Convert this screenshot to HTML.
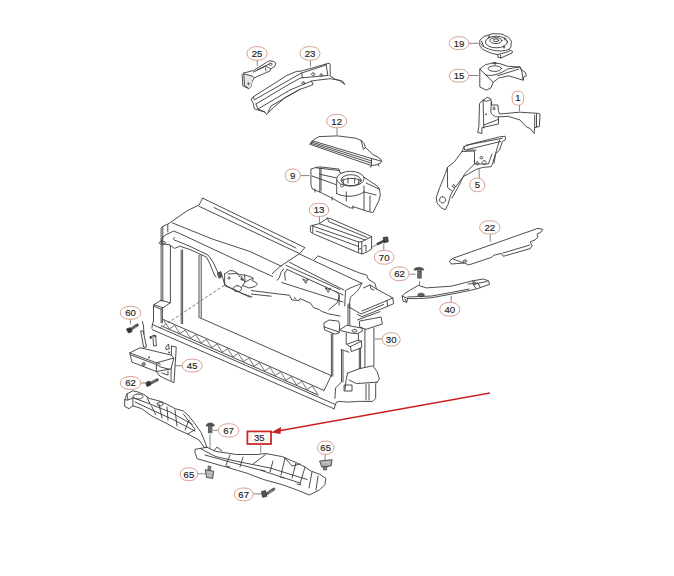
<!DOCTYPE html>
<html><head><meta charset="utf-8"><style>
html,body{margin:0;padding:0;background:#fff;}
svg{display:block;}
.l{fill:none;stroke:#3a3a3a;stroke-width:0.9;stroke-linejoin:round;stroke-linecap:round;}
.f{fill:#fff;stroke:#3a3a3a;stroke-width:0.9;stroke-linejoin:round;}
.d{fill:none;stroke:#555;stroke-width:0.8;stroke-dasharray:3 2;}
.k{fill:none;stroke:#777;stroke-width:0.9;}
.e{fill:#fff;stroke:#d8a090;stroke-width:1;}
text{font-family:"Liberation Sans",sans-serif;font-size:9.6px;fill:#222;stroke:#222;stroke-width:0.15;text-anchor:middle;}
</style></head><body>
<svg width="674" height="576" viewBox="0 0 674 576">
<rect width="674" height="576" fill="#fff"/>

<!-- ===== Part 25 ===== -->
<g id="p25">
<path class="f" d="M242.1,74.6 L243.7,73 L253.5,70.5 L266.6,62.3 L269.8,60.7 L273.9,61.5 L275.9,63.2 L274.7,66.4 L270.6,68.9 L269.8,71.3 L267.4,72.1 L254.3,77.8 L251.9,81.9 L251.1,86.8 L248.6,88.5 L242.9,86 Z"/>
<path d="M243.7,73.5 L252,76 L251.9,81.9 L251.1,86.8 L248.6,88.5 L244.5,85.2 Z" fill="#e6e6e6" stroke="none"/><path class="l" d="M243.7,73 L244.5,85.2 L248.6,88.5 M244,74 L252,76 L254.3,77.8 M257.6,69.7 L269,64 M253.5,72 L266,66 L270.6,68.9 M270.6,63 a1.5 1.2 0 1 0 0.1 0 M266,71 L265.5,68 M248.5,83 a0.8 0.8 0 1 0 0.1 0"/>
</g>

<!-- ===== Part 23 ===== -->
<g id="p23">
<path class="f" d="M251.1,99.1 L253.5,96.6 L287,75.4 L296.8,71.3 L300,71.3 L303.3,70.5 L326.1,64 L329.4,63.2 L330.2,64.8 L330.2,76.2 L335.9,79.5 L342.5,81.1 L344.9,84.4 L339.2,80.3 L330.2,78.7 L316.3,80.3 L311.4,81.1 L313.1,84.4 L309.8,86 L300,89.3 L285.3,97.4 L273.9,107.2 L268.2,112.9 L266.6,114.6 L264.9,112.1 L254.3,108.9 L253.5,104 Z"/>
<path class="l" d="M253.5,96.6 L254.3,99.9 L300,73.8 L301.7,73 L326.1,65 M256,104 L286,86 L300.8,77.8 L302.5,77.8 L327.8,75.4 M258,109 L264.9,112.1 M256,104 L258,109 L290,90 L311.4,81.1 M301.7,73 L302.5,77.8 M326.1,64 L327.8,75.4 M313.1,73 a1.8 1.2 0 1 0 0.1 0 M321.2,73.8 a1.4 1.2 0 1 0 0.1 0 M303.3,81.9 a1.8 1.1 0 1 0 0.1 0 M268,112 L271,106 L300,89.3"/>
</g>

<!-- ===== Part 19 ===== -->
<g id="p19">
<path class="f" d="M479.8,40.2 L484.2,36.3 L493.1,33.6 L502,34.1 L508.7,37.4 L511.4,41.3 L510.9,46.9 L508.7,49.7 L512.6,51.3 L512,53 L500.9,58 L498.1,57.4 L497.6,54.7 L490.9,53 L483.1,49.7 L479.8,45.8 Z"/>
<ellipse class="l" cx="496.4" cy="42" rx="11" ry="5.8"/>
<ellipse class="l" cx="496" cy="40.6" rx="6" ry="3"/>
<ellipse class="l" cx="496" cy="40.3" rx="2.8" ry="1.4"/>
<path class="l" d="M481,44.5 C486,50 500,53 509,49.5 M498,54.5 L509,51.5 M500.9,58 L500.5,55 M481.5,41 L483.5,46 M489,36 a1 1 0 1 0 0.1 0 M505,38 a1 1 0 1 0 0.1 0 M504,46 a1 1 0 1 0 0.1 0"/>
</g>

<!-- ===== Part 15 ===== -->
<g id="p15">
<path class="f" d="M479.8,69.1 L485.3,64.7 L493.1,63 L499.8,63.6 L507.6,66.3 L519.8,66.9 L522,70.2 L525.3,72.4 L526.4,75.8 L523.7,76.9 L523.1,80.2 L508.7,75.8 L498.7,78 L493.1,82.4 L490.9,88 L486.4,90.2 L479.8,86.9 Z"/>
<ellipse class="l" cx="494.8" cy="68.6" rx="6.7" ry="2.8"/>
<path class="l" d="M479.8,69.1 L486,75 L493.1,82.4 M486,75 C492,77 502,73 507.6,69 L519.8,66.9 M497.6,75.8 L518.7,69.1 M493,62.8 L496,62.5 L495.5,64 Z M520,67 L522,72 L523.1,80.2"/>
</g>

<!-- ===== Part 1 ===== -->
<g id="p1">
<path class="f" d="M479.5,103.9 L480.1,102.7 L483.1,100.3 L487.2,97.3 L490.2,98.5 L491.4,101.5 L491.4,105 L492,105 L497.9,105 L498.5,111.6 L499.7,114 L519.9,112.2 L538.8,113.4 L540,114 L539.4,126.4 L534.7,127.6 L534.1,133.5 L530.5,128.8 L525.8,126.4 L519.9,119.9 L508,116.3 L498.5,116.9 L498.5,124 L481.9,127.6 L481.9,133.5 L477.7,132.4 L478.9,126.4 Z"/>
<path class="l" d="M483.1,100.3 L483.8,128 M491.4,101.5 L490.8,112 C492,116 496,117 498.5,116.9 M498.5,119.3 L484,125 M534.7,115 L534.7,127.6 M536.5,114 L536.5,127 M483,100 C485,102 489,101 491,99.5 M494,107 a1 1.5 0 1 0 0.1 0 M486,114 a0.5 0.5 0 1 0 0.1 0"/>
</g>

<!-- ===== Part 5 ===== -->
<g id="p5">
<path class="f" d="M464,146.6 L471.7,143.8 L499.5,136.9 L505,136.2 L505.7,139.6 L502.3,141.7 L499.5,150.1 L495.3,154.2 L492.5,164 L491.2,166.7 L482.8,167.4 L475.9,169.5 L468.9,173.7 L463.4,176.5 L455,187.6 L450.8,194.5 L448.1,204.3 L445.3,209.8 L441.1,207.7 L437,202.9 L436.3,197.3 L439.7,187.6 L445.3,173.7 L447.4,167.4 L454.3,161.9 L462,151.5 Z"/>
<path class="l" d="M464,146.6 L464.7,150.1 L475.9,150.1 M466.1,145.2 L502.3,138.3 M467,149.5 L480,146.5 L500.5,141.5 M462,151.5 L474,151 M474.5,151.5 L474.5,164 L488.4,164 L492,154 M477.3,161.9 a1.5 1.5 0 1 0 0.1 0 M484.2,160.5 a2 2 0 1 0 0.1 0 M481.4,156.5 a1.5 1.2 0 1 0 0.1 0 M474.5,164 L464.7,173.7 L457.8,187.6 L452,198 M447.4,167.4 L447.6,187.6 L452,191 M442.5,196.6 a3 3.2 0 1 0 0.1 0 M453.6,184.8 a1.5 1.3 0 1 0 0.1 0 M499.5,140 L496,152 L494,163"/>
</g>

<!-- ===== Part 12 ===== -->
<g id="p12">
<path class="f" d="M310.2,144 L313.9,139.6 L319,136.6 L337.5,135.9 L355.2,138.1 L361.1,140.3 L364,143.3 L365.5,147.7 L372.9,154.4 L378.1,157.3 L381.8,160.3 L381,162.5 L377.3,164.7 L371.5,165.6 L309.7,144.2 Z"/>
<path class="l" d="M312.1,140.7 L371.5,158.5 L381,161 M311.2,141.9 L371.5,160.9 M310.4,143.1 L371.5,163.2 M371.5,158.5 L371.5,165.5 M361.1,140.3 L363.3,149.2 L365.5,147.7 M370,166.2 L371,167.5 M378,164 L379,166"/>
</g>

<!-- ===== Part 9 ===== -->
<g id="p9">
<path class="f" d="M310.9,169.1 L315.3,167.6 L319.8,166.9 L339,169.1 L340,173 L364,177.2 L368.5,180.2 L377.3,186.1 L379.5,189 L380.3,195 L378.8,200.8 L375.8,206.8 L372.9,212.7 L367,211.2 L353.7,206.8 L350.8,208.2 L341.9,203.8 L331.6,197.9 L319.8,192 L312.4,189 L310.9,184.6 Z"/>
<path class="l" d="M319.8,168.4 L319.8,192 M321,168 L321,191 M319.8,174.3 L337,178 M312,176 L336,184.6 M316,167.8 L339,170.5 M336.7,180 L336.7,193.5 M336.7,193.5 C342,197 356,198 364,192 M346.3,192 L346.3,201 M364,186 L364,209.7 M366,183 L379,189 M364,192 L376,195 M370,196 L370,211 M315,189 L315,192 M332,197 L332,200 M353,206 L353,209 M341,181 L342,184 a1.5 1.5 0 1 0 0.1 0"/>
<ellipse class="f" cx="350.4" cy="178.7" rx="13.7" ry="7.4"/>
<ellipse class="l" cx="351.1" cy="180.2" rx="10" ry="5.5"/>
<path class="l" d="M343,179 L343.5,184 M348,178 L348,183 M355,178 L354.5,183 M359,179 L358.5,184 M341.5,181 C345,178 357,177 360.5,181"/>
</g>

<!-- ===== Part 13 ===== -->
<g id="p13">
<path class="f" d="M310.4,226.1 L312.8,225.3 L319.4,223.7 L327.5,218 L330,218.5 L366.7,234.3 L371.6,236.7 L371.6,249 L367,252 L361.8,253.9 L356.9,252.2 L314.5,234.3 L310.4,231.8 Z"/>
<path class="l" d="M312.8,225.3 L312.8,232.5 M312.8,226.1 L358.5,242 L361.8,241.6 L371.6,236.7 M319.4,223.7 L365.1,240 M316.1,231 L358.5,246.5 M358.5,242 L358.5,251.5 M361.8,241.6 L361.8,253.9 M327.5,218 L328.5,221.5 L367,237.5 M364,246 L366,245 L366,251 M359.5,249 L361,248.5"/>
</g>

<!-- ===== Part 70 screw ===== -->
<path class="k" d="M372,247.2 L378,244"/>
<path d="M377.8,243.8 L384,240.8" stroke="#444" stroke-width="2.6" stroke-linecap="round"/>
<path d="M383,237.5 L387.5,236.8 L388.4,241.8 L384,242.8 Z" fill="#3a3a3a" stroke="#333" stroke-width="0.6"/>
<path d="M385.5,238 L386,241" stroke="#999" stroke-width="0.5"/>

<!-- ===== Part 22 ===== -->
<g id="p22">
<path class="f" d="M449.3,261.1 L453.1,258.2 L538,228.3 L542.8,229.3 L540.9,232.2 L537,234.1 L538,237 L535.1,239.9 L530.3,241.8 L532.2,245.7 L530.3,248.6 L503.3,256.3 L501.4,253.4 L493.6,255.3 L491.7,257.3 L468.6,265 L464.7,263 L451.2,264 Z"/>
<path class="l" d="M453,259 L464,263 M465,260 a2 1 0 1 0 0.1 0 M503,253 L530,245"/>
</g>

<!-- ===== Part 62 screw (right) ===== -->
<path d="M414,270 C414,266.5 423.8,266.5 423.8,270 Z" fill="#555" stroke="#333" stroke-width="0.7"/>
<path d="M419.5,270.5 L419.5,278.5" stroke="#505050" stroke-width="4.6"/>
<path d="M417.5,272.5 L421.5,273.2 M417.5,274.5 L421.5,275.2 M417.5,276.5 L421.5,277.2" stroke="#aaa" stroke-width="0.5"/>
<path class="k" d="M419.5,281 L419.5,289"/>

<!-- ===== Part 40 ===== -->
<g id="p40">
<path class="f" d="M402.3,296 L404.9,293.3 L418.3,285.3 L426.3,287.9 L451.2,286.2 L472.6,280.8 L483.3,279 L488.6,280.8 L489.5,284.4 L477,288.8 L469,290.6 L451.2,294.2 L431.6,297.7 L419.2,298.6 L407.6,298.6 L406.7,302.2 L403.1,301.3 Z"/>
<path d="M421,293.2 a3.3 1.8 0 1 0 0.1 0" fill="#666" stroke="#333" stroke-width="0.7"/>
<path class="l" d="M407.6,298.6 L402.3,296 M407.6,297 L431.6,296 L451.2,292.5 L469,289 M468,284 L472.6,283.5 L476,288.5 M472.6,280.8 L474,284 L487,281.5 M474.5,282 a2 1.4 0 1 0 0.1 0 M478,283 L480,287 M406.7,302.2 L405,299"/>
</g>

<!-- ===== Frame 30 ===== -->
<g id="p30">
<path class="l" d="M202.7,198.2 L304.9,247.6 L299.7,253.6 L280.4,266.2 L272.3,273.6"/>
<path class="l" d="M199,206.3 L299.7,253.6 M214,207.5 L296,248"/>
<path class="l" d="M202.7,198.2 L199,205 L187.1,210.8 L172.3,221.2 L167.8,224.1 L162.6,226.4 L161.1,228 L161.1,301 M162.8,226.5 L162.8,301"/>
<path class="l" d="M172.3,222.9 L212.3,239 L250,251.5 L281.2,266.2"/>
<path class="l" d="M162.6,237.3 L165.6,235 L173.7,231 L179.7,233.5 L240,261.7 L272.6,276.5 M167.8,224.6 L167.8,232"/>
<path class="l" d="M174.5,237.3 C173,239 173,240 176,240.6 L190,246.4 L208,255 L213,262 L218,272.8 L222.7,277.3 L224.2,283.2 L227.2,286.2 L250,297.3 M169.3,244.7 L174.5,248.4 L179.7,246.2 L190,249.5 L206.4,257 L210,264 L214,274 L216,277"/>
<path class="l" d="M162.3,241.3 a3.3 1.5 0 1 0 0.1 0 M162.6,237.3 C161,240 161,243 163,244 L169.3,244.7"/>
<path class="l" d="M224.6,273.9 L229.8,270.5 L233.5,270.9 L239.5,274.6 L244.7,275 L250.6,276.8 L253.6,278.3 L252.1,280.5 L256.5,282.8 L257.3,284.3 L255.1,286.5 L249.1,288 L243.2,285.7 M224.6,273.9 L224.6,285.7 L233.5,289.4 L243.2,293.9 L252.1,296.9 M237.3,285.7 a4.2 3 0 1 0 0.1 0 M241,276 L245,282 L252,278.5 M244.7,275 L245,282 L241.5,287.5 M228,274 L237,273.5 L240,277 M229,277 a1.2 1 0 1 0 0.1 0"/>
<path d="M217.2,273 L221,271.6 L222.4,276.5 L219,278.3 Z" fill="#555" stroke="#333" stroke-width="0.6"/>
<path d="M241,277.5 L244,281 L240.5,280 Z" fill="#333"/>
<path class="l" d="M251.4,290.6 L289.5,295.3 L292,300 L299,300.5 L300,298.5 L310.6,303.3 L313.4,307.5 L319,309.5 L321.9,311.5 L329,314 L340,316 M251.4,294.1 L271.1,296.2 M334.6,291.3 C338,292 339.5,295 338.8,298 L337.4,302.6 L328.9,309.6 M294,297.5 l2,1.5"/>
<path class="l" d="M287,269.4 L343,295 M284.7,273 L285.3,280.1 M287,269.4 L284.7,273 M281.7,282.5 L343,302 M289.4,262.3 L343.9,290 M285.9,265.3 L340,289.5 M303,279 l3,1.5 l2,-1.5 l-2,4 z M325.5,288 l3,1.5 l2,-1.5 l-2,4 z"/>
<path class="l" d="M277,280.1 L279,278.5 L281,272.5 L283.5,269"/>
<path class="l" d="M299.5,254 L361.8,283.3"/>
<path class="l" d="M314.3,259.9 L317.9,255.8 L358.5,272.6 L366.7,275.1 L368.3,279.2 L374.9,283.3 L376.5,289"/>
<path class="l" d="M361.8,283.3 C356,286 349,288 345.5,290.6 L344.7,306 M361.8,283.3 C359,291 354,294 350.4,297.1 L349,308"/>
<path class="l" d="M363.4,288 L370,284.9 L376.5,289 L392.8,297.9 L393.6,303.7 L386.3,306.9 L361.8,316.7 L357.5,314.5 M392.8,297.9 L387,300.5 L362,311 M370,285 L371,289 L374,290 M387,300.5 L387.5,306"/>
<path class="l" d="M349,307 L361,314 L383.6,304.5 M348,304 L348,325 M349.8,304 L349.8,325 M339.1,295 L339.1,305"/>
<path class="l" d="M340.3,329.4 L346.8,325.3 L362.2,328.2 L362.2,331.2 L357.5,333.6 L350.4,333 L340.9,330.6 Z M354.5,329.4 a2.5 1.3 0 1 0 0.1 0 M346.2,333 L346.2,344 M358.4,333.6 L358.4,340.3 M347.1,344.2 L357.8,340.3 L361.4,341.2 L350.4,346.6 Z M350.4,346.6 L351.3,351.6 L361.7,347.5 L361.4,341.2"/>
<path class="l" d="M359.9,321 L381,317 L382.4,324 L365.8,329.4 L360,327 Z M357.5,319.9 L380,311.6"/>
<path class="l" d="M324.2,322.9 L329,320 L338.5,321.1 L339.7,324.7 L339.1,333 L335,334.2 L324.8,330 Z M324.2,327 L339,332"/>
<path class="l" d="M331.4,334 L331.4,376.2 M332.8,334 L332.8,376.2 M341.2,349.5 L348.9,352.2 M341.5,349.5 L341.5,382.1 L335.6,388 L334.9,398.4 M343,351 L343,382 M359.3,348.5 L359.3,368.7 M360.6,348 L360.6,368.7 M364.9,329 L364.9,367 M373.9,328 L373.9,365.8"/>
<path class="l" d="M347.5,373.2 L359.3,368.7 L372.7,365.8 L377.2,371.7 L379.4,379.1 L377.2,382.1 L375.7,383.6 L375.7,398.4 L372.7,401.4 L359.3,401.4 L347.5,402.1 L340,401.4 L336.4,402.1 L334.1,408.8 M347.5,373.2 L346,380.6 L345,390 M349,379.9 L356.4,383.6 L377.2,382.1 M366,384 L366,400 M369,384 L369,400 M344.5,385 L352,385 L352,391 L344.5,391 Z"/>
<path class="l" d="M170.4,245.4 L170.4,300 M181.2,250 L181.2,323.7 M182.6,250 L182.6,323.7 M199,255 L199,317.5 M201.2,255 L201.2,317.5"/>
<path class="l" d="M154.1,304.5 L161.1,300.2 L170.1,302.9 L163.4,307.6 Z M154.1,304.5 L154.1,306.4 L161.1,309.2 L163.4,307.6 M153.5,305.6 L153.5,321.3 M161.1,309.2 L161.1,322.8 M162.4,309 L162.4,322.8 M153.5,321.3 L152.5,323.6 L151.9,328.3 M170.4,300 L170.4,303"/>
<path class="l" d="M199.9,317.8 L331.2,375.6 L326.7,385 L323.7,391 M162.8,319.3 L323.7,390.3 M161.3,325.8 L318,395 M152.4,324.5 L334.9,404.3 M152.4,329.7 L334.1,408.8"/>
<path class="l" style="stroke-width:0.7" d="M164.0,320.7 L169.3,328.9 L174.6,325.4 L179.9,333.6 L185.2,330.1 L190.5,338.2 L195.8,334.7 L201.1,342.9 L206.4,339.4 L211.7,347.6 L217.0,344.0 L222.3,352.2 L227.6,348.7 L232.9,356.9 L238.2,353.4 L243.5,361.6 L248.8,358.0 L254.1,366.2 L259.4,362.7 L264.7,370.9 L270.0,367.4 L275.3,375.6 L280.6,372.0 L285.9,380.2 L291.2,376.7 L296.5,384.9 L301.8,381.4 L307.1,389.6 L312.4,386.0 L317.7,394.2"/>
<path class="d" d="M224.2,285.4 L159.8,328.2"/>
</g>

<!-- ===== Part 45 ===== -->
<g id="p45">
<path class="f" d="M171.5,345.9 L176.2,347.1 L176,352 L174,382.5 L172.7,382.5 L171,380 Z"/>
<path class="f" d="M129.7,352.9 L140.1,347.7 L171.5,355.2 L173.8,358.1 L171,369 L169.2,369.2 L156.4,371.5 L132,362.2 Z"/>
<path class="l" d="M129.7,352.9 L156.4,362.8 L173.8,358.1 M156.4,362.8 L156.4,371.5 M131,355 L155,364 M156.4,371.5 L159.9,376.1 L170.9,381.4 M159.9,366.8 L169.2,369.2 M162,373 L168,375 L168,371"/>
<path class="f" d="M140.7,331 L143.2,330.8 L146.5,347 L143.7,347.4 Z M152.9,335.4 L155.7,335.4 L156.4,345.9 L153.6,346 Z"/>
<path class="l" d="M142.4,321.5 L143.5,326 L144,334 M150,337 L152.5,336 M166,347 L168.5,344 L169.2,349 L166.5,349.5 Z"/>
<path d="M143.6,362.6 a1.8 1.6 0 1 0 0.1 0" fill="#888" stroke="#333" stroke-width="0.6"/>
<path class="l" d="M158.7,363.3 a1.5 1.3 0 1 0 0.1 0 M149,357 a0.6 0.5 0 1 0 0.1 0 M169,352 a0.6 0.5 0 1 0 0.1 0"/>
<path d="M149.5,336.5 L151.5,336 L152,338.5 L150,339 Z M154,335.2 L156,335 L156.2,337 L154.2,337.2 Z" fill="#444"/>
</g>

<!-- screws left -->
<path d="M130.5,329.5 L137.3,325.1" stroke="#555" stroke-width="3" stroke-linecap="round"/>
<path d="M126.4,329 L130,327.7 L132.2,331.5 L128.5,333 Z" fill="#333" stroke="#333" stroke-width="0.8"/>
<path d="M151,383 L157.3,379.8" stroke="#555" stroke-width="3" stroke-linecap="round"/>
<path d="M145.7,382.5 L149.5,381 L150.8,385 L147,386.4 Z" fill="#333" stroke="#333" stroke-width="0.8"/>
<path d="M132.5,327 l1,2 M134.5,325.8 l1,2 M153,380.8 l1,2 M155,379.8 l1,2" stroke="#bbb" stroke-width="0.5"/>

<!-- ===== Part 35 ===== -->
<g id="p35">
<path class="f" d="M126.9,393.9 L132.8,390.9 L137.3,391.7 L144,394.6 L149.2,398.4 L160.3,401.3 L167,404.3 L175.1,408.7 L183.3,411 L187.7,414.7 L193.7,422.1 L201.1,432.5 L204.1,439.9 L207,447.3 L201.2,448.3 L195,449.3 L195,452.5 L197.1,458.7 L211.6,462.9 L226.2,467 L246.9,473.2 L263.5,479.5 L282.2,484.7 L296.8,489.9 L309.2,495 L313.4,493 L319.6,489.9 L324.8,484.7 L325.9,478.4 L319.6,474.3 L311.3,471.2 L305.1,467 L296.8,462.9 L282.2,456.6 L265.6,453.5 L257.3,454.5 L236.5,454.5 L215.8,451.4 L207,447.3 L204.1,447.3 L198.9,439.9 L187.7,434 L177.3,429.5 L167,423.6 L152.1,416.2 L141.7,408.7 L132.8,405.8 L129.1,408.7 L124.7,406.5 L124.7,399.8 Z"/>
<path class="l" d="M126.9,393.9 L128,400 L124.7,399.8 M128,400 L133,398 L132.8,405.8 M132.8,397.6 L150,404 L170,412 L192.2,424.3 M135,402 L152,410 L172,419 L195,431 M138,394 a5 2.5 0 1 0 0.1 0 M147,397 L150,404 M151.4,405.8 L155.8,414.7 M159,404 L162,418 M167,407 L168,420 M175,410 L177,426 M183.3,413.9 L195.2,429.5 L187.7,434 M189,420 L185,430 M160,402 a3 2 0 1 0 0.1 0"/>
<path class="l" d="M201,449 L215.8,456.6 L240,462 L270,468 L307.2,479.5 M205,455 L230,462 L260,470 L300,483 M253.2,463.9 L265.6,454.5 M230,455 L226,465 M243,457 L240,467 M273,461 L270,472 M285,458 L281,475 M296,463 L292,478 M305,467 L300,484 M312,472 L309,488 M318,476 L316,490 M285,458 L292,466 L300,464 M214,451 L217,447 L222,451 M261,470 l4,1 M280,477 l4,1 M297,484 l4,1 M226,466 l4,1"/>
</g>

<!-- screws / clips near 35 -->
<path d="M206.2,426 C206.2,422 214.3,422 214.3,426 Z" fill="#555" stroke="#333" stroke-width="0.7"/>
<path d="M210.2,426.3 L210.2,433.2" stroke="#505050" stroke-width="4.4"/>
<path d="M208.3,428 L212.2,428.6 M208.3,430 L212.2,430.6 M208.3,432 L212.2,432.6" stroke="#aaa" stroke-width="0.5"/>
<path class="k" d="M210,434.5 L210,448.6"/>
<path d="M205.4,469.6 L213.7,471.2 L212.7,478.4 L206.4,477.4 Z" fill="#b0b0b0" stroke="#333" stroke-width="0.8"/>
<path d="M207,472 L212,473 M207,475 L211.5,476" stroke="#ddd" stroke-width="0.6"/>
<path d="M208,466 L211,466.5 L210.5,469.8 L208,469.5 Z" fill="#888" stroke="#333" stroke-width="0.6"/>
<path d="M319.6,461 L332.1,459.7 L331.1,466 L321.7,467 Z" fill="#b0b0b0" stroke="#333" stroke-width="0.8"/>
<path d="M322,463 L330,462.5" stroke="#ddd" stroke-width="0.6"/>
<path d="M323,467 L327,466.5 L326.5,470 L323.5,470 Z" fill="#888" stroke="#333" stroke-width="0.6"/>
<path d="M266.5,494 L273.9,489" stroke="#666" stroke-width="3" stroke-linecap="round"/>
<path d="M261.5,491.5 L265.5,490.6 L266.7,496.4 L262.5,497.2 Z" fill="#555" stroke="#333" stroke-width="0.8"/>
<path d="M268.5,491.5 l1,2 M270.5,490.3 l1,2" stroke="#bbb" stroke-width="0.5"/>

<!-- ===== Red arrow ===== -->
<path d="M490,393 L278,431" stroke="#cc2020" stroke-width="1.5" fill="none"/>
<path d="M271,432.5 L281,427 L280.5,434 Z" fill="#cc2020"/>

<!-- ===== Labels ===== -->
<g id="labels">
<path class="k" d="M257.3,58.3 L257.3,66 M310.4,58.3 L310.4,66.6 M469,43.3 L478.7,43.3 M469,75.5 L478.7,75.5 M519.4,104.7 L519.4,111.5 M479.2,178 L479.2,168 M337,127 L337,135.8 M300.5,175.6 L309.4,175.6 M319.4,216 L319.4,223 M383.8,250.8 L383.8,243.5 M490.2,233.1 L490.2,241.8 M409.4,274.2 L415.6,274.2 M451.2,303 L451.2,296 M130.4,317.8 L130.4,324.2 M382.7,339 L374.8,339 M183,365.7 L174.7,365.7 M141,383 L147.4,383 M218,430.3 L213.2,430.3 M260.8,445.2 L260.8,452.8 M325.1,454 L325.1,460.4 M197.7,473.8 L205.3,473.8 M253.2,493.9 L262,493.9"/>
<rect class="e" x="247.0" y="46.7" width="20.0" height="13.6" rx="8.5" ry="6.8"/><text x="257" y="56.9">25</text>
<rect class="e" x="300.0" y="46.6" width="20.0" height="13.6" rx="8.5" ry="6.8"/><text x="310" y="56.8">23</text>
<rect class="e" x="449.2" y="36.8" width="19.6" height="12.8" rx="8.3" ry="6.4"/><text x="459" y="46.6">19</text>
<rect class="e" x="449.2" y="69.3" width="19.6" height="12.8" rx="8.3" ry="6.4"/><text x="459" y="79.1">15</text>
<rect class="e" x="512.2" y="91.2" width="11.4" height="13.8" rx="4.5" ry="5"/><text x="517.8" y="101.4">1</text>
<rect class="e" x="326.7" y="114.5" width="20.0" height="13.2" rx="8.5" ry="6.6"/><text x="336.7" y="124.5">12</text>
<rect class="e" x="285.1" y="169.0" width="15.2" height="12.8" rx="6.5" ry="6.4"/><text x="292.7" y="178.8">9</text>
<rect class="e" x="469.9" y="178.1" width="14.8" height="13.6" rx="6.3" ry="6.8"/><text x="477.3" y="188.3">5</text>
<rect class="e" x="309.2" y="203.3" width="19.6" height="13.2" rx="8.3" ry="6.6"/><text x="319" y="213.3">13</text>
<rect class="e" x="479.6" y="220.8" width="20.4" height="13.2" rx="8.7" ry="6.6"/><text x="489.8" y="230.8">22</text>
<rect class="e" x="374.4" y="250.5" width="19.6" height="13.6" rx="8.3" ry="6.8"/><text x="384.2" y="260.7">70</text>
<rect class="e" x="389.9" y="267.0" width="19.2" height="13.6" rx="8.2" ry="6.8"/><text x="399.5" y="277.2">62</text>
<rect class="e" x="439.8" y="302.5" width="20.0" height="13.6" rx="8.5" ry="6.8"/><text x="449.8" y="312.7">40</text>
<rect class="e" x="120.3" y="306.4" width="20.4" height="12.8" rx="8.7" ry="6.4"/><text x="130.5" y="316.2">60</text>
<rect class="e" x="382.2" y="332.8" width="18.0" height="13.2" rx="7.6" ry="6.6"/><text x="391.2" y="342.8">30</text>
<rect class="e" x="182.2" y="359.2" width="20.0" height="12.8" rx="8.5" ry="6.4"/><text x="192.2" y="369.0">45</text>
<rect class="e" x="120.3" y="376.6" width="20.4" height="12.8" rx="8.7" ry="6.4"/><text x="130.5" y="386.4">62</text>
<rect class="e" x="218.4" y="423.8" width="20.4" height="13.2" rx="8.7" ry="6.6"/><text x="228.6" y="433.8">67</text>
<rect class="e" x="317.5" y="441.1" width="16.4" height="13.2" rx="7.0" ry="6.6"/><text x="325.7" y="451.1">65</text>
<rect class="e" x="180.1" y="467.8" width="17.6" height="12.8" rx="7.5" ry="6.4"/><text x="188.9" y="477.6">65</text>
<rect class="e" x="234.3" y="488.0" width="18.8" height="12.8" rx="8.0" ry="6.4"/><text x="243.7" y="497.8">67</text>
<rect x="247.4" y="431.4" width="23.6" height="12.6" fill="#fff" stroke="#c82828" stroke-width="1.8"/><ellipse cx="259.3" cy="437.7" rx="9" ry="5.2" fill="none" stroke="#f0c8c0" stroke-width="0.7"/><text x="259.3" y="441.3">35</text>
</g>
</svg>
</body></html>
